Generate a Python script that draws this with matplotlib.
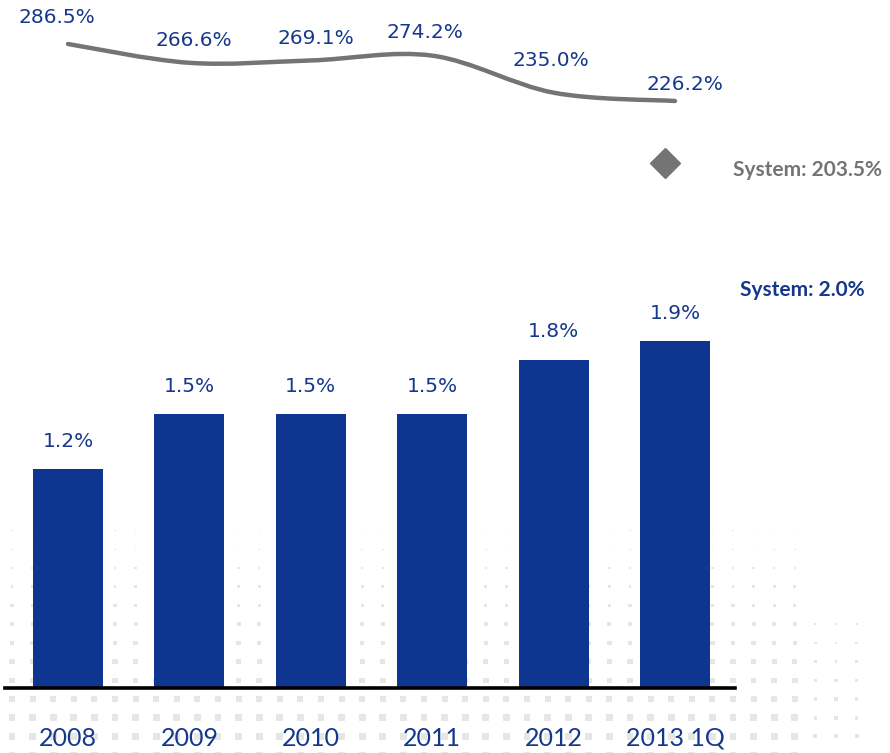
import matplotlib
matplotlib.use("Agg")
import matplotlib.pyplot as plt
from matplotlib.path import Path
from matplotlib.patches import PathPatch
from matplotlib.transforms import offset_copy
import numpy as np

# ---- data ----
categories = ["2008", "2009", "2010", "2011", "2012", "2013 1Q"]
npl_ratio = [1.2, 1.5, 1.5, 1.5, 1.8, 1.9]            # bars, %
coverage = [286.5, 266.6, 269.1, 274.2, 235.0, 226.2]  # line, %
system_npl = 2.0
system_coverage = 203.5

# ---- style ----
BAR_BLUE = "#0E358F"
TEXT_BLUE = "#15388C"
GRAY = "#747474"
W, H = 890, 753

fig = plt.figure(figsize=(W / 100, H / 100), dpi=100)

# decorative dotted background (pixel grid, top-left origin)
bg = fig.add_axes([0, 0, 1, 1], zorder=0)
bg.set_xlim(0, W)
bg.set_ylim(H, 0)
bg.axis("off")
gx, gy = np.meshgrid(np.arange(12, 875, 20.6), np.arange(512, 760, 18.7))
gx, gy = gx.ravel(), gy.ravel()
fac = np.clip((gy - 495) / 230, 0.12, 1.0)
mask = ~((gx > 805) & (gy < 615))
fac = np.where(gx > 805, fac * 0.55, fac)
bg.scatter(gx[mask], gy[mask], s=(fac[mask] * 5.0) ** 2, marker="s",
           color="#e6e6e6", linewidths=0)

base_px = 688
ax = fig.add_axes([0, (H - base_px) / H, 1, base_px / H], zorder=1)
ax.patch.set_visible(False)
ax.set_xlim(-0.56, (W - 68) / 121.4)
ax.set_ylim(0, base_px / 182.5)
ax.axis("off")

x = np.arange(len(categories))
ax.bar(x, npl_ratio, width=0.577, color=BAR_BLUE, zorder=2)
for xi, v in zip(x, npl_ratio):
    ax.annotate(f"{v:.1f}%", (xi, v), xytext=(0, 20), textcoords="offset points",
                ha="center", va="center", fontsize=14.5, color=TEXT_BLUE,
                family="DejaVu Sans")
ax.axhline(0, xmin=5 / W, xmax=735 / W, color="black", lw=2.6, zorder=3,
           clip_on=False)
for xi, c in zip(x, categories):
    ax.annotate(c, (xi, 0), xytext=(0, -36), textcoords="offset points",
                ha="center", va="center", fontsize=18, color=TEXT_BLUE,
                family="Lato", annotation_clip=False)
ax.annotate(f"System: {system_npl:.1f}%", (x[-1], system_npl),
            xytext=(47, 24), textcoords="offset points", ha="left",
            va="center", fontsize=15, fontweight="bold", color=TEXT_BLUE,
            family="Lato")

# ---- coverage line (smoothed with Bezier segments) ----
ax2 = ax.twinx()
k = 57 / 60.3
top = 286.5 + 44 / k
ax2.set_ylim(top - base_px / k, top)
ax2.axis("off")

xs = x.astype(float)
ys = np.array(coverage, dtype=float)
verts = [(xs[0], ys[0])]
codes = [Path.MOVETO]
n = len(xs)
for i in range(n - 1):
    p0 = (xs[max(i - 1, 0)], ys[max(i - 1, 0)])
    p1 = (xs[i], ys[i])
    p2 = (xs[i + 1], ys[i + 1])
    p3 = (xs[min(i + 2, n - 1)], ys[min(i + 2, n - 1)])
    c1 = (p1[0] + (p2[0] - p0[0]) / 6, p1[1] + (p2[1] - p0[1]) / 6)
    c2 = (p2[0] - (p3[0] - p1[0]) / 6, p2[1] - (p3[1] - p1[1]) / 6)
    verts += [c1, c2, p2]
    codes += [Path.CURVE4] * 3
ax2.add_patch(PathPatch(Path(verts, codes), fill=False, edgecolor=GRAY,
                        lw=3.2, capstyle="round", zorder=3))

offsets = [(-8, 19), (3, 16), (4, 16), (-5, 17), (-2, 23), (7, 12)]
for xi, v, off in zip(xs, coverage, offsets):
    ax2.annotate(f"{v:.1f}%", (xi, v), xytext=off, textcoords="offset points",
                 ha="center", va="center", fontsize=14.5, color=TEXT_BLUE,
                 family="DejaVu Sans")

# ---- system coverage marker ----
ax3 = ax.twinx()
ax3.set_ylim(system_coverage - (base_px - 163), system_coverage + 163)
ax3.axis("off")
ax3.plot([xs[-1]], [system_coverage], marker="D", ms=15, color=GRAY,
         linestyle="none",
         transform=offset_copy(ax3.transData, fig=fig, x=-10, y=0, units="dots"))
ax3.annotate(f"System: {system_coverage:.1f}%", (xs[-1], system_coverage),
             xytext=(42, -5), textcoords="offset points", ha="left",
             va="center", fontsize=15, fontweight="bold", color=GRAY,
             family="Lato")

fig.savefig("out.png", dpi=100)
